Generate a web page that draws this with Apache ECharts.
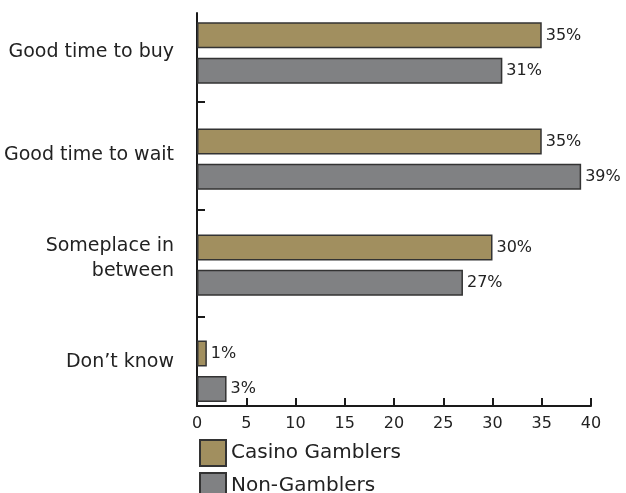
<!DOCTYPE html>
<html><head><meta charset="utf-8">
<script src="https://cdn.jsdelivr.net/npm/echarts@6/dist/echarts.min.js"></script>
<style>html,body{margin:0;padding:0;background:#fff}#c{width:626px;height:493px}</style>
</head><body><div id="c"></div>
<script>
const categories = ['Good time to buy', 'Good time to wait', 'Someplace in\nbetween', 'Don’t know'];
const casinoGamblers = [35, 35, 30, 1];
const nonGamblers = [31, 39, 27, 3];
const seriesNames = ['Casino Gamblers', 'Non-Gamblers'];
const xMin = 0, xMax = 40, xInterval = 5;

const FONT = 'DejaVu Sans';
const INK = '#222';
const AXIS_COLOR = '#1a1a1a';
const PLOT_LEFT = 197, PLOT_W = 394;
const BAND_TOP = -5.75, BAND_H = 107.5;
const AXIS_TOP = 13, AXIS_BOTTOM = 406;
const LABEL_TOP = -5.33, LABEL_BAND = 104.67;
const LEGEND_TOPS = [439, 472];
const uMin = (AXIS_TOP - BAND_TOP) / BAND_H, uMax = (AXIS_BOTTOM - BAND_TOP) / BAND_H;
const boundaryTicks = categories.slice(1).map((_, i) => i + 1);

const chart = echarts.init(document.getElementById('c'), null, {renderer: 'canvas'});
const axisLineStyle = {color: AXIS_COLOR, width: 2};
const barLabel = {show: true, position: 'right', distance: 4, formatter: '{c}%', fontFamily: FONT, fontSize: 16, color: INK};

const option = {
  animation: false,
  backgroundColor: '#fff',
  grid: [
    {left: PLOT_LEFT, width: PLOT_W, top: BAND_TOP, height: BAND_H * categories.length},
    {left: PLOT_LEFT, width: PLOT_W, top: AXIS_TOP, height: AXIS_BOTTOM - AXIS_TOP},
    {left: PLOT_LEFT, width: PLOT_W, top: LABEL_TOP, height: LABEL_BAND * categories.length}
  ],
  xAxis: [
    {gridIndex: 0, type: 'value', min: xMin, max: xMax, show: false},
    {gridIndex: 1, type: 'value', min: xMin, max: xMax, interval: xInterval,
      axisLine: {show: true, onZero: false, lineStyle: axisLineStyle},
      axisTick: {show: true, inside: true, length: 8, lineStyle: axisLineStyle},
      axisLabel: {margin: 10, fontFamily: FONT, fontSize: 16, color: INK},
      splitLine: {show: false}},
    {gridIndex: 2, type: 'value', min: xMin, max: xMax, show: false}
  ],
  yAxis: [
    {gridIndex: 0, type: 'category', inverse: true, data: categories, show: false},
    {gridIndex: 1, type: 'value', inverse: true, min: uMin, max: uMax,
      axisLine: {show: true, onZero: false, lineStyle: axisLineStyle},
      axisTick: {show: true, inside: true, length: 8, customValues: boundaryTicks, lineStyle: axisLineStyle},
      axisLabel: {show: false}, splitLine: {show: false}},
    {gridIndex: 2, type: 'category', inverse: true, data: categories,
      axisLine: {show: false}, axisTick: {show: false},
      axisLabel: {margin: 23, fontFamily: FONT, fontSize: 19, color: INK, lineHeight: 25, align: 'right'}}
  ],
  legend: seriesNames.map((name, i) => ({
    orient: 'vertical', left: 199, top: LEGEND_TOPS[i], padding: 0, itemWidth: 26, itemHeight: 26,
    icon: 'rect', data: [name], selectedMode: false,
    textStyle: {fontFamily: FONT, fontSize: 20, color: INK}
  })),
  series: [
    {name: seriesNames[0], type: 'bar', xAxisIndex: 0, yAxisIndex: 0, data: casinoGamblers,
      barWidth: 26, barGap: '36%',
      itemStyle: {color: '#a18f5f', borderColor: '#333', borderWidth: 1.5}, label: barLabel},
    {name: seriesNames[1], type: 'bar', xAxisIndex: 0, yAxisIndex: 0, data: nonGamblers,
      barWidth: 26, barGap: '36%',
      itemStyle: {color: '#808183', borderColor: '#333', borderWidth: 1.5}, label: barLabel}
  ]
};
chart.setOption(option);
</script>
</body></html>
